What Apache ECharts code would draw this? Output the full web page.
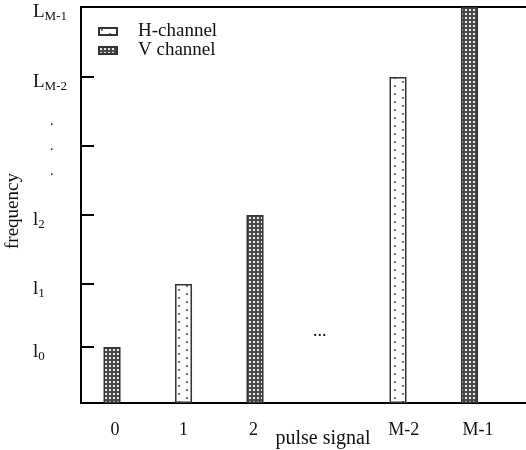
<!DOCTYPE html>
<html>
<head>
<meta charset="utf-8">
<script src="https://cdn.jsdelivr.net/npm/echarts@6/dist/echarts.min.js"></script>
<style>
  html, body { margin: 0; padding: 0; background: #fff; }
  #chart { width: 526px; height: 450px; }
</style>
</head>
<body>
<div id="chart"></div>
<script>
// data (y in axis units, bottom = 0)
var xLabels = ['0', '1', '2', 'pulse signal', 'M-2', 'M-1'];
var xLabelPos = [0.04, 1, 1.98, 2.95, 4.08, 5.12];
var hPos = [1, 4];
var hVal = [119, 326];
var vPos = [0, 2, 5];
var vVal = [56, 188, 396];
var yTickVals = [56, 119, 188, 257, 326, 396];
var yTickText = ['{a|l}{s|0}', '{a|l}{s|1}', '{a|l}{s|2}', '{d|.\n.\n.}', '{a|L}{s|M-2}', '{a|L}{s|M-1}'];

var FONT = 'Liberation Serif';

function makeTile(w, h, bg, dots, dotColor, size) { // pattern tile for the bars
    var c = document.createElement('canvas');
    c.width = w; c.height = h;
    var ctx = c.getContext('2d');
    ctx.fillStyle = bg;
    ctx.fillRect(0, 0, w, h);
    ctx.fillStyle = dotColor;
    dots.forEach(function (d) {
        ctx.fillRect(d[0], d[1], size, size);
    });
    return c;
}

var hTile = makeTile(16, 8, '#ffffff', [[2, 1], [10, 5]], '#777777', 2);
var vTile = makeTile(4, 4, '#4a4a4a', [[1, 1]], '#e8e8e8', 2);

function pairs(xs, ys) {
    return xs.map(function (x, i) { return [x, ys[i]]; });
}

var chart = echarts.init(document.getElementById('chart'));
chart.setOption({
    animation: false,
    grid: {
        left: 81, right: -10, top: 7, bottom: 47,
        outerBoundsMode: 'none',
        containLabel: false,
        show: true, borderColor: '#000', borderWidth: 2
    },
    legend: {
        orient: 'vertical',
        left: 93, top: 17,
        icon: 'rect',
        itemWidth: 18, itemHeight: 7, itemGap: 0,
        textStyle: { fontFamily: FONT, fontSize: 19, color: '#111', padding: [0, 0, 0, 16] },
        data: ['H-channel', 'V channel']
    },
    xAxis: {
        type: 'value',
        min: -0.434, max: 5.93,
        splitLine: { show: false },
        axisTick: { show: false },
        axisLine: { onZero: false, lineStyle: { color: '#000', width: 2 } },
        axisLabel: {
            customValues: xLabelPos,
            margin: 18,
            fontFamily: FONT, fontSize: 18, color: '#111',
            formatter: function (v) {
                var i = xLabelPos.indexOf(v);
                if (i === 3) return '{p|' + xLabels[i] + '}';
                return i >= 0 ? xLabels[i] : '';
            },
            rich: { p: { fontFamily: FONT, fontSize: 20, color: '#111', padding: [8, 0, 0, 0] } }
        }
    },
    yAxis: {
        type: 'value',
        min: 0, max: 396,
        splitLine: { show: false },
        name: 'frequency',
        nameLocation: 'middle',
        nameGap: 55,
        nameRotate: 90,
        nameTextStyle: { fontFamily: FONT, fontSize: 19, color: '#111', padding: [0, 0, 0, -12] },
        axisLine: { onZero: false, lineStyle: { color: '#000', width: 2 } },
        axisTick: {
            inside: true, length: 13,
            customValues: yTickVals.slice(0, 5),
            lineStyle: { color: '#000', width: 2 }
        },
        axisLabel: {
            customValues: yTickVals,
            align: 'left',
            margin: 48,
            formatter: function (v) {
                var i = yTickVals.indexOf(v);
                return i >= 0 ? yTickText[i] : '';
            },
            rich: {
                a: { fontFamily: FONT, fontSize: 19, color: '#111', padding: [11, 0, 0, 0] },
                s: { fontFamily: FONT, fontSize: 13, color: '#111', padding: [19, 0, 0, 0] },
                d: { fontFamily: FONT, fontSize: 14, color: '#111', lineHeight: 25, padding: [0, 0, 0, 17] }
            }
        }
    },
    series: [
        {
            name: 'H-channel',
            type: 'bar',
            barWidth: 17,
            barGap: '-100%',
            itemStyle: { color: { image: hTile, repeat: 'repeat' }, borderColor: '#333', borderWidth: 1.5 },
            data: pairs(hPos, hVal)
        },
        {
            name: 'V channel',
            type: 'bar',
            barWidth: 17,
            barGap: '-100%',
            itemStyle: { color: { image: vTile, repeat: 'repeat' }, borderColor: '#333', borderWidth: 1.5 },
            data: pairs(vPos, vVal)
        }
    ],
    graphic: [
        {
            type: 'text',
            left: 313, top: 322,
            style: { text: '...', fontFamily: FONT, fontSize: 18, fill: '#111' }
        }
    ]
});
</script>
</body>
</html>
